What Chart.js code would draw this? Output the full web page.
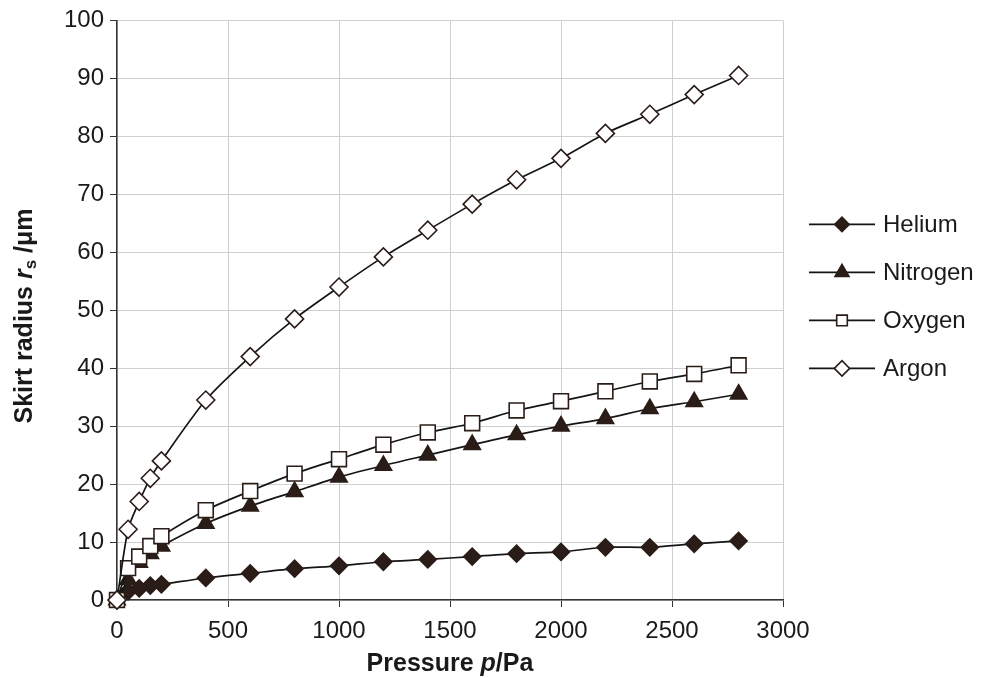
<!DOCTYPE html>
<html>
<head>
<meta charset="utf-8">
<script src="https://cdn.jsdelivr.net/npm/chart.js@4/dist/chart.umd.min.js"></script>
<style>
  html, body { margin: 0; padding: 0; background: #fff; }
  #wrap { width: 984px; height: 678px; }
</style>
</head>
<body>
<div id="wrap"><canvas id="chart" width="984" height="678"></canvas></div>
<script>
const pressure = [0, 50, 100, 150, 200, 400, 600, 800, 1000, 1200, 1400, 1600, 1800, 2000, 2200, 2400, 2600, 2800];
const helium   = [0, 1.5, 2.0, 2.5, 2.7, 3.8, 4.6, 5.4, 5.9, 6.6, 7.0, 7.5, 8.0, 8.3, 9.1, 9.1, 9.7, 10.2];
const nitrogen = [0, 3.5, 6.5, 8.0, 9.3, 13.2, 16.2, 18.7, 21.2, 23.2, 25.0, 26.8, 28.5, 30.0, 31.3, 33.0, 34.2, 35.5];
const oxygen   = [0, 5.5, 7.5, 9.3, 11.0, 15.5, 18.8, 21.8, 24.3, 26.8, 28.9, 30.5, 32.7, 34.3, 36.0, 37.7, 39.0, 40.5];
const argon    = [0, 12.2, 17.0, 21.0, 24.0, 34.5, 42.0, 48.5, 54.0, 59.2, 63.8, 68.3, 72.5, 76.2, 80.5, 83.8, 87.2, 90.5];
const seriesNames = ['Helium', 'Nitrogen', 'Oxygen', 'Argon'];
const xTicks = [0, 500, 1000, 1500, 2000, 2500, 3000];
const yTicks = [0, 10, 20, 30, 40, 50, 60, 70, 80, 90, 100];

const DARK = '#2a1c17';
const LINE = '#151515';
const FONT = '"Liberation Sans", Arial, Helvetica, sans-serif';

const markers = [
  { pointStyle: 'rectRot', radius: 8.5, fill: DARK },
  { pointStyle: 'triangle', radius: 9.5, fill: DARK },
  { pointStyle: 'rect', radius: 10.5, fill: '#ffffff' },
  { pointStyle: 'rectRot', radius: 9, fill: '#ffffff' }
];

const toPoints = vals => pressure.map((p, i) => ({ x: p, y: vals[i] }));

const datasets = [helium, nitrogen, oxygen, argon].map((vals, i) => ({
  label: seriesNames[i],
  data: toPoints(vals),
  borderColor: LINE,
  borderWidth: 1.7,
  tension: 0.25,
  clip: false,
  pointStyle: markers[i].pointStyle,
  pointRadius: markers[i].radius,
  pointBackgroundColor: markers[i].fill,
  pointBorderColor: DARK,
  pointBorderWidth: 1.6,
  order: 4 - i
}));

// axis titles with italic / subscript parts
const axisTitles = {
  id: 'axisTitles',
  afterDraw(chart) {
    const { ctx, chartArea } = chart;
    const bold = '700 25px ' + FONT;
    const boldIt = 'italic 700 25px ' + FONT;
    const sub = '700 17px ' + FONT;

    const xParts = [['Pressure ', bold, 0], ['p', boldIt, 0], ['/Pa', bold, 0]];
    drawParts(ctx, xParts, (chartArea.left + chartArea.right) / 2, 664, 0);

    const yParts = [['Skirt radius ', bold, 0], ['r', boldIt, 0], ['s', sub, 6], [' /\u03bcm', bold, 0]];
    drawParts(ctx, yParts, 25, 316, -Math.PI / 2);
  }
};

function drawParts(ctx, parts, cx, cy, rot) {
  ctx.save();
  ctx.translate(cx, cy);
  ctx.rotate(rot);
  ctx.fillStyle = '#1a1a1a';
  ctx.textBaseline = 'middle';
  ctx.textAlign = 'left';
  let total = 0;
  parts.forEach(p => { ctx.font = p[1]; total += ctx.measureText(p[0]).width; });
  let x = -total / 2;
  parts.forEach(p => {
    ctx.font = p[1];
    ctx.fillText(p[0], x, p[2]);
    x += ctx.measureText(p[0]).width;
  });
  ctx.restore();
}

// legend: line with marker, then label
const lineLegend = {
  id: 'lineLegend',
  afterDraw(chart) {
    const { ctx, chartArea } = chart;
    const x0 = chartArea.right + 26;
    const y0 = chartArea.top + 204;
    const w = 66;
    chart.data.datasets.forEach((ds, i) => {
      const y = y0 + i * 48;
      ctx.save();
      ctx.strokeStyle = LINE;
      ctx.lineWidth = 1.7;
      ctx.beginPath();
      ctx.moveTo(x0, y);
      ctx.lineTo(x0 + w, y);
      ctx.stroke();
      ctx.fillStyle = ds.pointBackgroundColor;
      ctx.strokeStyle = ds.pointBorderColor;
      ctx.lineWidth = ds.pointBorderWidth;
      const r = ds.pointStyle === 'rect' ? 7.5 : ds.pointRadius * 0.85;
      Chart.helpers.drawPoint(ctx, { pointStyle: ds.pointStyle, radius: r, rotation: 0, borderWidth: ds.pointBorderWidth }, x0 + w / 2, y);
      ctx.fillStyle = '#1a1a1a';
      ctx.font = '24px ' + FONT;
      ctx.textBaseline = 'middle';
      ctx.fillText(ds.label, x0 + w + 8, y + 1);
      ctx.restore();
    });
  }
};

new Chart(document.getElementById('chart'), {
  type: 'line',
  data: { datasets },
  options: {
    responsive: false,
    animation: false,
    layout: { padding: { top: 19, right: 201, bottom: 0, left: 0 } },
    plugins: { legend: { display: false }, tooltip: { enabled: false } },
    scales: {
      x: {
        type: 'linear',
        min: 0, max: 3000,
        afterBuildTicks: s => { s.ticks = xTicks.map(v => ({ value: v })); },
        afterFit: s => { s.height = 78; },
        grid: { color: '#cfcfcf', lineWidth: 1, tickColor: '#333', tickLength: 7 },
        border: { color: '#333', width: 1.5 },
        ticks: { color: '#1a1a1a', font: { family: FONT, size: 24 }, padding: 10, maxRotation: 0, callback: v => String(v) }
      },
      y: {
        min: 0, max: 100,
        afterBuildTicks: s => { s.ticks = yTicks.map(v => ({ value: v })); },
        afterFit: s => { s.width = 117; },
        grid: { color: '#cfcfcf', lineWidth: 1, tickColor: '#333', tickLength: 7 },
        border: { color: '#333', width: 1.5 },
        ticks: { color: '#1a1a1a', font: { family: FONT, size: 24 }, padding: 6, callback: v => String(v) }
      }
    }
  },
  plugins: [axisTitles, lineLegend]
});
</script>
</body>
</html>
